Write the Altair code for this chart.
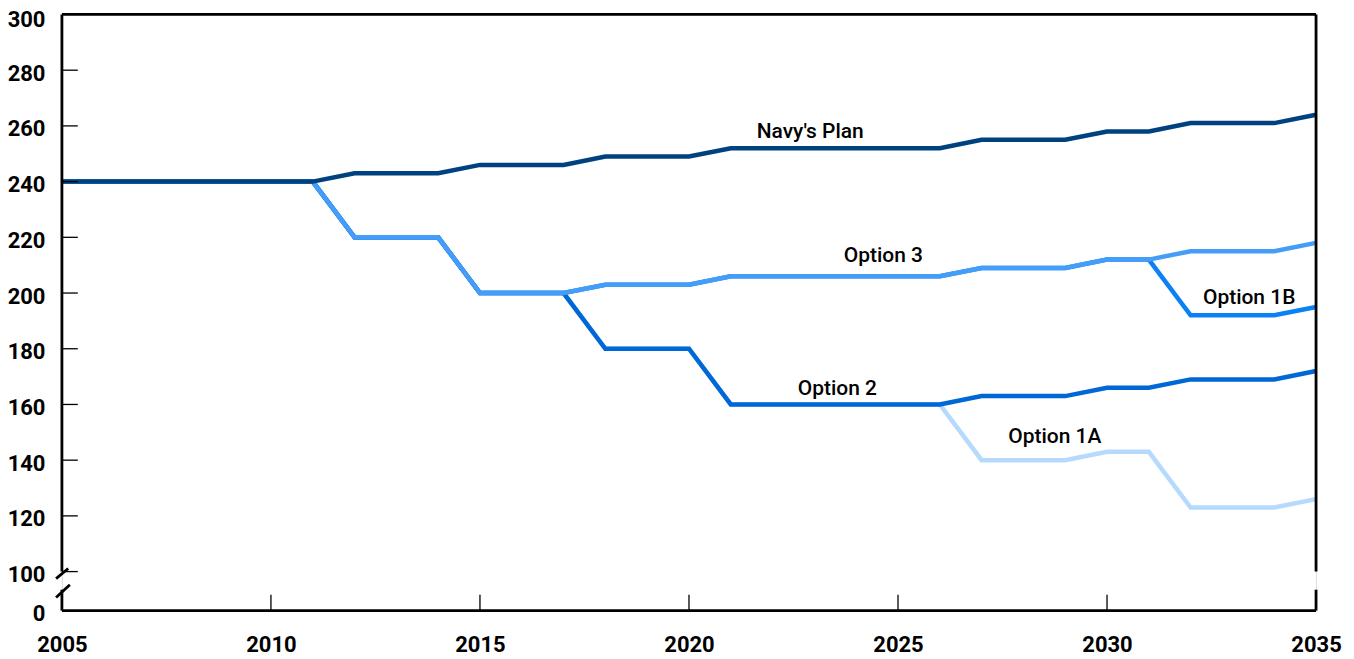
import altair as alt
import pandas as pd

years = list(range(2005, 2036))

navy_plan = [240, 240, 240, 240, 240, 240, 240, 243, 243, 243, 246, 246, 246, 249, 249, 249,
             252, 252, 252, 252, 252, 252, 255, 255, 255, 258, 258, 261, 261, 261, 264]
option_3 = [240, 240, 240, 240, 240, 240, 240, 220, 220, 220, 200, 200, 200, 203, 203, 203,
            206, 206, 206, 206, 206, 206, 209, 209, 209, 212, 212, 215, 215, 215, 218]
option_2 = [240, 240, 240, 240, 240, 240, 240, 220, 220, 220, 200, 200, 200, 180, 180, 180,
            160, 160, 160, 160, 160, 160, 163, 163, 163, 166, 166, 169, 169, 169, 172]
option_1a = [240, 240, 240, 240, 240, 240, 240, 220, 220, 220, 200, 200, 200, 180, 180, 180,
             160, 160, 160, 160, 160, 160, 140, 140, 140, 143, 143, 123, 123, 123, 126]
option_1b = [240, 240, 240, 240, 240, 240, 240, 220, 220, 220, 200, 200, 200, 203, 203, 203,
             206, 206, 206, 206, 206, 206, 209, 209, 209, 212, 212, 192, 192, 192, 195]

series_names = ["Option 1A", "Option 1B", "Option 2", "Option 3", "Navy's Plan"]
series_values = [option_1a, option_1b, option_2, option_3, navy_plan]
series_colors = ["#b5dafe", "#0a82f6", "#0067d7", "#449df7", "#00417f"]

label_x = [2028.75, 2033.4, 2023.55, 2024.65, 2022.9]
label_y = [148.4, 198.2, 165.6, 213.3, 257.7]

x_ticks = [2005, 2010, 2015, 2020, 2025, 2030, 2035]
y_ticks = [86, 100, 120, 140, 160, 180, 200, 220, 240, 260, 280, 300]

FONT = "Liberation Sans Narrow, Roboto, sans-serif"
W, H = 1256, 597

xs = alt.Scale(domain=[2005, 2035], nice=False, zero=False)
ys = alt.Scale(domain=[86, 300], nice=False, zero=False)

x_axis = alt.Axis(values=x_ticks, format="d", domain=False, ticks=False, tickSize=0, grid=False,
                  labelFont=FONT, labelFontSize=22, labelFontWeight="bold", labelColor="black",
                  labelPadding=24, title=None, labelFlush=False, labelOverlap=False)
y_axis = alt.Axis(values=y_ticks, domain=False, ticks=False, tickSize=0, grid=False,
                  labelExpr="datum.value < 90 ? '0' : datum.label",
                  labelFont=FONT, labelFontSize=22, labelFontWeight="bold", labelColor="black",
                  labelPadding=17,
                  labelOffset={"condition": {"test": "datum.value >= 300", "value": 5}, "value": 3},
                  title=None, labelFlush=False, labelOverlap=False)


def X(field):
    return alt.X(field, scale=xs, axis=x_axis)


def Y(field):
    return alt.Y(field, scale=ys, axis=y_axis)


layers = []
for name, vals, col in zip(series_names, series_values, series_colors):
    df = pd.DataFrame({"year": years, "value": vals, "series": name})
    layers.append(
        alt.Chart(df).mark_line(color=col, strokeWidth=4.5, strokeJoin="miter")
        .encode(x=X("year:Q"), y=Y("value:Q"))
    )

# frame with broken axis
frame = pd.DataFrame({
    "x": [2005, 2005, 2005, 2005, 2035, 2035, 2004.86, 2004.86],
    "x2": [2035, 2005, 2005, 2035, 2035, 2035, 2005.15, 2005.19],
    "y": [300, 100, 86, 86, 100, 86, 97.5, 90.7],
    "y2": [300, 300, 93.5, 86, 300, 93.5, 101.1, 95.3],
})
frame_layer = alt.Chart(frame).mark_rule(color="black", strokeWidth=2.8, strokeCap="butt").encode(
    x=X("x:Q"), x2="x2:Q", y=Y("y:Q"), y2="y2:Q")

ytick_df = pd.DataFrame({"y": [100, 120, 140, 160, 180, 200, 220, 240, 260, 280]})
ytick_df["x"] = 2005
ytick_df["x2"] = 2005.38
ytick_layer = alt.Chart(ytick_df).mark_rule(color="black", strokeWidth=1.3).encode(
    x=X("x:Q"), x2="x2:Q", y=Y("y:Q"))

xtick_df = pd.DataFrame({"x": [2010, 2015, 2020, 2025, 2030]})
xtick_df["y"] = 86
xtick_df["y2"] = 91.7
xtick_layer = alt.Chart(xtick_df).mark_rule(color="black", strokeWidth=1.3).encode(
    x=X("x:Q"), y=Y("y:Q"), y2="y2:Q")

lab_df = pd.DataFrame({"x": label_x, "y": label_y, "text": series_names})
label_layer = alt.Chart(lab_df).mark_text(font=FONT, fontSize=21, fontWeight=500,
                                          color="black", align="center", baseline="middle").encode(
    x=X("x:Q"), y=Y("y:Q"), text="text:N")

chart = alt.layer(*layers, frame_layer, ytick_layer, xtick_layer, label_layer).properties(
    width=W, height=H,
    autosize=alt.AutoSizeParams(type="none"),
    padding={"left": 54, "top": 6, "right": 30, "bottom": 48},
).configure_view(stroke=None).configure(background="white")

chart.save("out.html", embed_options={"renderer": "svg", "actions": False})
